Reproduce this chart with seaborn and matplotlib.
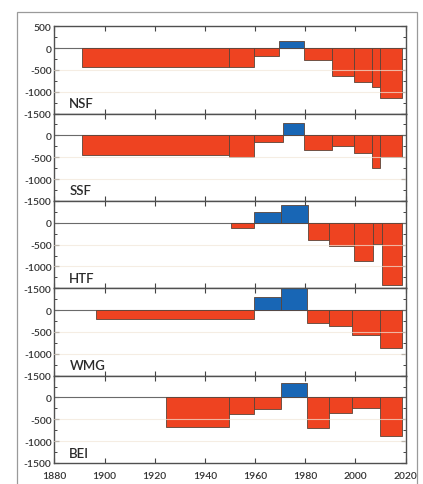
import numpy as np
import pandas as pd
import seaborn as sns
import matplotlib
matplotlib.use("Agg")
import matplotlib.pyplot as plt
from matplotlib.patches import Rectangle
from matplotlib.ticker import MultipleLocator

# Period edges (years) and net change per period for each site
sites = ["NSF", "SSF", "HTF", "WMG", "BEI"]

nsf_edges = [1891, 1949.5, 1959.5, 1969.5, 1979.5, 1990.5, 1999.5, 2006.5, 2009.8, 2018.5]
nsf_vals = [-445, -445, -190, 150, -270, -640, -775, -885, -1135]

ssf_edges = [1891, 1949.5, 1959.5, 1971.3, 1979.5, 1990.5, 1999.5, 2006.7, 2009.7, 2018.5]
ssf_vals = [-440, -500, -150, 285, -335, -245, -400, -745, -495]

htf_edges = [1950.5, 1959.5, 1970.3, 1981.2, 1989.4, 1999.6, 2007.0, 2010.7, 2018.5]
htf_vals = [-115, 250, 410, -405, -530, -870, -480, -1425]

wmg_edges = [1896.8, 1959.5, 1970.3, 1980.5, 1989.4, 1998.8, 2009.6, 2018.5]
wmg_vals = [-215, 290, 500, -300, -365, -570, -875]

bei_edges = [1924.5, 1949.5, 1959.5, 1970.3, 1980.5, 1989.4, 1998.8, 2009.6, 2018.5]
bei_vals = [-680, -380, -265, 340, -690, -350, -230, -890]

site_edges = [nsf_edges, ssf_edges, htf_edges, wmg_edges, bei_edges]
site_vals = [nsf_vals, ssf_vals, htf_vals, wmg_vals, bei_vals]

x_ticks = [1880, 1900, 1920, 1940, 1960, 1980, 2000, 2020]
y_ticks = [500, 0, -500, -1000, -1500]

RED = "#EE4321"
BLUE = "#1866B5"

sns.set_theme(style="white")
plt.rcParams["font.family"] = ["Lato", "DejaVu Sans"]
plt.rcParams["axes.unicode_minus"] = False

fig, axes = plt.subplots(
    5, 1, figsize=(4.23, 4.85), dpi=100, sharex=True,
    gridspec_kw=dict(hspace=0, left=0.1284, right=0.959, top=0.944, bottom=0.0433),
)

for i, (ax, name, edges, vals) in enumerate(zip(axes, sites, site_edges, site_vals)):
    df = pd.DataFrame({
        "start": edges[:-1],
        "width": np.diff(edges),
        "value": vals,
    })
    df["color"] = np.where(df["value"] >= 0, BLUE, RED)
    ax.bar(df["start"], df["value"], width=df["width"], align="edge",
           color=df["color"], edgecolor="#5a4438", linewidth=0.6, zorder=2)
    ax.axhline(0, color="#6a6a6a", lw=0.8, zorder=1.5)
    for g in (-500, -1000):
        ax.axhline(g, color="#f2e6d8", lw=0.8, alpha=0.7, zorder=3)

    ax.set_xlim(1880, 2020)
    ax.set_ylim(-1500, 500)
    ax.set_yticks(y_ticks)
    ax.yaxis.set_minor_locator(MultipleLocator(250))
    ax.set_xticks(x_ticks)
    if i == 0:
        ax.set_yticklabels([str(v) for v in y_ticks])
    else:
        ax.set_yticklabels([""] + [str(v) for v in y_ticks[1:]])
    ax.tick_params(axis="both", which="both", direction="in", top=True,
                   right=True, left=True, bottom=True, colors="#444444",
                   labelcolor="#333333", labelsize=7.5)
    ax.tick_params(axis="y", which="major", length=3.5, width=0.8, pad=2)
    ax.tick_params(axis="x", which="major", length=3.5, width=0.8, pad=6)
    ax.tick_params(axis="y", which="minor", length=2.5, width=0.7)
    for lbl in ax.get_yticklabels() + ax.get_xticklabels():
        lbl.set_fontweight("semibold")
    for sp in ax.spines.values():
        sp.set_color("#505050")
        sp.set_linewidth(1.0)
    ax.text(1886, -1260, name, fontsize=9.5, color="#2a2a2a", va="center",
            ha="left", fontweight="semibold")

axes[-1].set_xticklabels([str(v) for v in x_ticks])
for lbl in axes[-1].get_xticklabels():
    lbl.set_fontweight("semibold")

# Thin frame around the whole figure
fig.patches.append(Rectangle((17 / 423, -0.02), 400 / 423, (485 - 13) / 485 + 0.02,
                             transform=fig.transFigure, fill=False,
                             edgecolor="#9a9a9a", lw=0.9))

fig.savefig("out.png", dpi=100)
